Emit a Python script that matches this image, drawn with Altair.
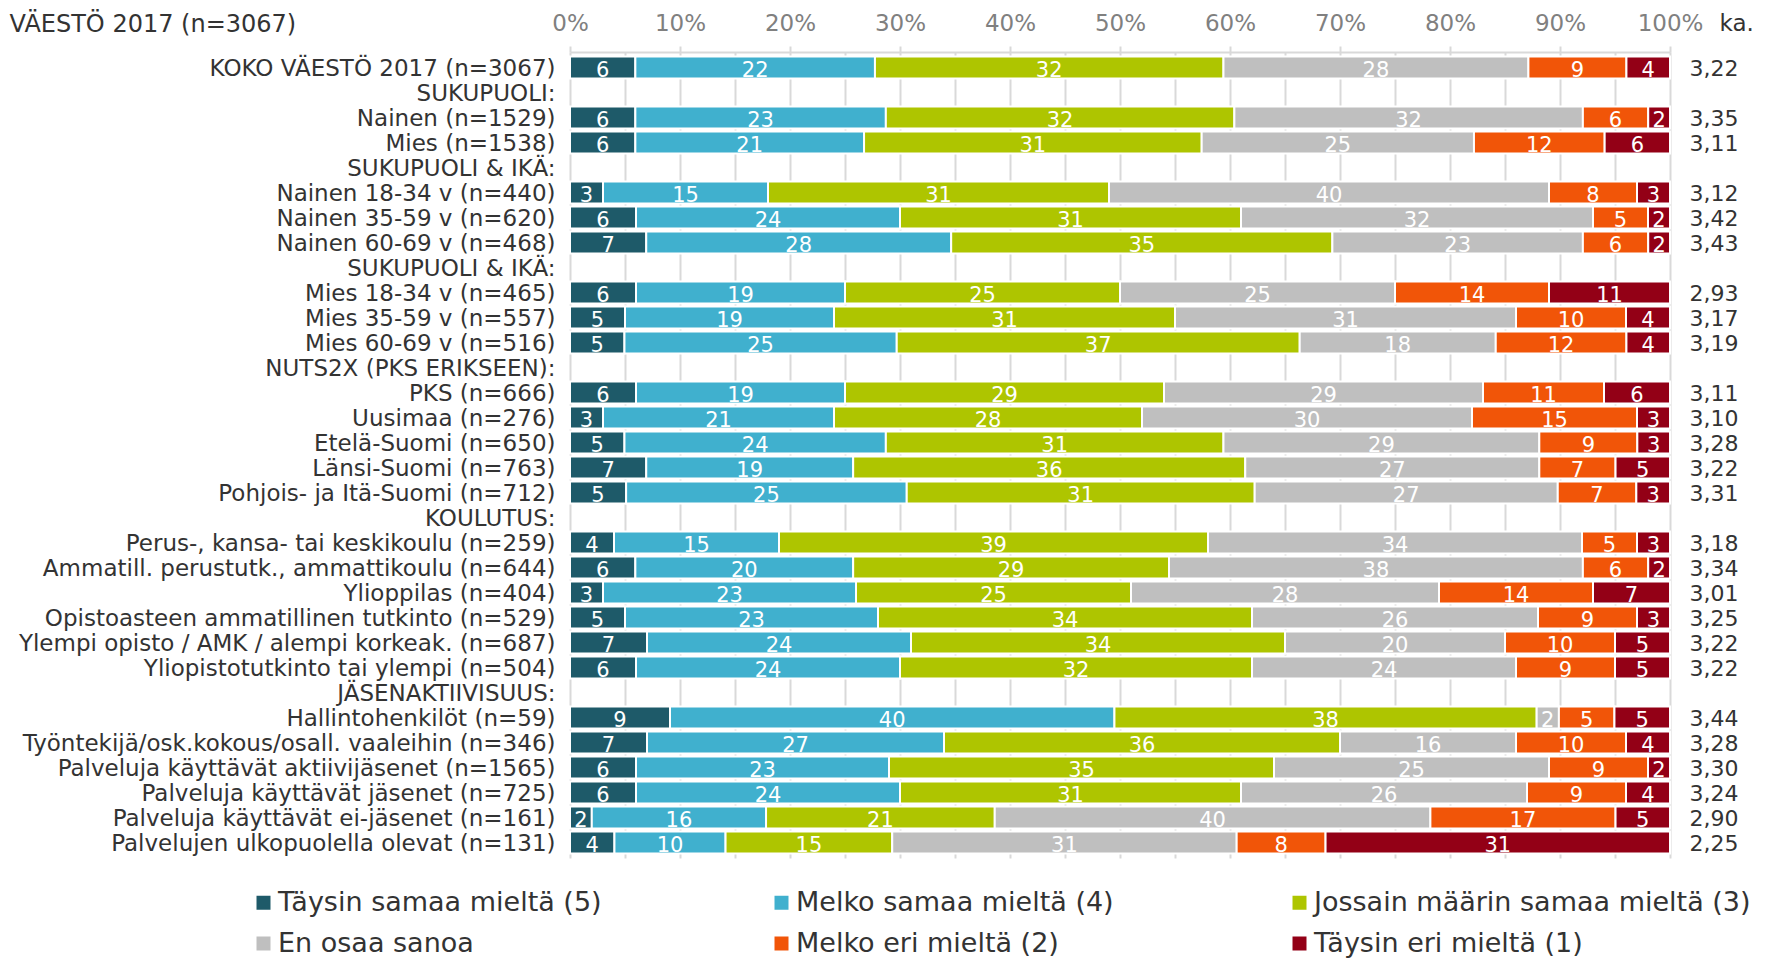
import json
import altair as alt
import pandas as pd

FONT = "DejaVu Sans"

categories = [
    "KOKO VÄESTÖ 2017 (n=3067)",
    "SUKUPUOLI:",
    "Nainen (n=1529)",
    "Mies (n=1538)",
    "SUKUPUOLI & IKÄ:",
    "Nainen 18-34 v (n=440)",
    "Nainen 35-59 v (n=620)",
    "Nainen 60-69 v (n=468)",
    "SUKUPUOLI & IKÄ:",
    "Mies 18-34 v (n=465)",
    "Mies 35-59 v (n=557)",
    "Mies 60-69 v (n=516)",
    "NUTS2X (PKS ERIKSEEN):",
    "PKS (n=666)",
    "Uusimaa (n=276)",
    "Etelä-Suomi (n=650)",
    "Länsi-Suomi (n=763)",
    "Pohjois- ja Itä-Suomi (n=712)",
    "KOULUTUS:",
    "Perus-, kansa- tai keskikoulu (n=259)",
    "Ammatill. perustutk., ammattikoulu (n=644)",
    "Ylioppilas (n=404)",
    "Opistoasteen ammatillinen tutkinto (n=529)",
    "Ylempi opisto / AMK / alempi korkeak. (n=687)",
    "Yliopistotutkinto tai ylempi (n=504)",
    "JÄSENAKTIIVISUUS:",
    "Hallintohenkilöt  (n=59)",
    "Työntekijä/osk.kokous/osall. vaaleihin (n=346)",
    "Palveluja käyttävät aktiivijäsenet (n=1565)",
    "Palveluja käyttävät jäsenet (n=725)",
    "Palveluja käyttävät ei-jäsenet (n=161)",
    "Palvelujen ulkopuolella olevat (n=131)",
]

series_names = [
    "Täysin samaa mieltä (5)",
    "Melko samaa mieltä (4)",
    "Jossain määrin samaa mieltä (3)",
    "En osaa sanoa",
    "Melko eri mieltä (2)",
    "Täysin eri mieltä (1)",
]
series_colors = ["#1e5a69", "#40b0ce", "#aec500", "#bfbfbf", "#f15508", "#930016"]

taysin_samaa = [6, None, 6, 6, None, 3, 6, 7, None, 6, 5, 5, None, 6, 3, 5, 7, 5, None, 4, 6, 3, 5, 7, 6, None, 9, 7, 6, 6, 2, 4]
melko_samaa = [22, None, 23, 21, None, 15, 24, 28, None, 19, 19, 25, None, 19, 21, 24, 19, 25, None, 15, 20, 23, 23, 24, 24, None, 40, 27, 23, 24, 16, 10]
jossain = [32, None, 32, 31, None, 31, 31, 35, None, 25, 31, 37, None, 29, 28, 31, 36, 31, None, 39, 29, 25, 34, 34, 32, None, 38, 36, 35, 31, 21, 15]
en_osaa = [28, None, 32, 25, None, 40, 32, 23, None, 25, 31, 18, None, 29, 30, 29, 27, 27, None, 34, 38, 28, 26, 20, 24, None, 2, 16, 25, 26, 40, 31]
melko_eri = [9, None, 6, 12, None, 8, 5, 6, None, 14, 10, 12, None, 11, 15, 9, 7, 7, None, 5, 6, 14, 9, 10, 9, None, 5, 10, 9, 9, 17, 8]
taysin_eri = [4, None, 2, 6, None, 3, 2, 2, None, 11, 4, 4, None, 6, 3, 3, 5, 3, None, 3, 2, 7, 3, 5, 5, None, 5, 4, 2, 4, 5, 31]

averages = ["3,22", "", "3,35", "3,11", "", "3,12", "3,42", "3,43", "", "2,93", "3,17", "3,19", "",
            "3,11", "3,10", "3,28", "3,22", "3,31", "", "3,18", "3,34", "3,01", "3,25", "3,22", "3,22", "",
            "3,44", "3,28", "3,30", "3,24", "2,90", "2,25"]

series_values = [taysin_samaa, melko_samaa, jossain, en_osaa, melko_eri, taysin_eri]

rows = []
for i in range(len(categories)):
    for k, (name, vals) in enumerate(zip(series_names, series_values)):
        v = vals[i]
        if v is None:
            continue
        rows.append({"pos": i, "category": categories[i], "series": name, "order": k, "value": v})
df = pd.DataFrame(rows)

base = (
    alt.Chart(df)
    .transform_joinaggregate(total="sum(value)", groupby=["pos"])
    .transform_calculate(share="datum.value / datum.total")
    .transform_stack(stack="share", as_=["x0", "x1"], groupby=["pos"],
                     sort=[alt.SortField("order", order="ascending")])
    .transform_calculate(mid="(datum.x0 + datum.x1) / 2")
)

xscale = alt.Scale(domain=[0, 1], nice=False, zero=True)
yscale = alt.Scale(domain=list(range(len(categories))), paddingInner=0.12, paddingOuter=0.18)

left_expr = json.dumps(categories, ensure_ascii=False) + "[datum.value]"
right_expr = json.dumps(averages, ensure_ascii=False) + "[datum.value]"

bars = base.mark_bar(stroke="white", strokeWidth=2).encode(
    x=alt.X("x0:Q", scale=xscale,
            axis=alt.Axis(orient="top", values=[i / 10 for i in range(11)], format=".0%",
                          grid=False, domainColor="#d9d9d9", domainWidth=2,
                          tickColor="#d9d9d9", tickWidth=2, tickSize=6,
                          labelColor="#808080", labelFontSize=23, labelFont=FONT,
                          labelPadding=10.5, labelFlush=False, labelOverlap=False,
                          title="VÄESTÖ 2017 (n=3067)", titleX=-561, titleY=-21,
                          titleAlign="left", titleBaseline="alphabetic", titleAngle=0,
                          titleFont=FONT, titleFontSize=24, titleFontWeight="normal",
                          titleColor="#333333")),
    x2="x1:Q",
    y=alt.Y("pos:O", scale=yscale,
            axis=alt.Axis(orient="left", labelExpr=left_expr, ticks=False, domain=False,
                          labelFontSize=23, labelFont=FONT, labelColor="#333333",
                          labelPadding=15, labelLimit=800, labelAlign="right",
                          labelOffset=1, title=None)),
    color=alt.Color("series:N",
                    scale=alt.Scale(domain=series_names, range=series_colors),
                    legend=alt.Legend(orient="none", legendX=-320, legendY=837,
                                      direction="horizontal", columns=3, gridAlign="all",
                                      columnPadding=53, rowPadding=13,
                                      symbolType="square", symbolSize=196,
                                      symbolStrokeWidth=0, labelFontSize=27,
                                      labelFont=FONT, labelColor="#333333",
                                      labelOffset=1, labelLimit=900, padding=0,
                                      title=None)),
    tooltip=["category:N", "series:N", "value:Q"],
)

labels = base.mark_text(color="white", fontSize=21, font=FONT, baseline="middle", dy=3).encode(
    x=alt.X("mid:Q", scale=xscale,
            axis=alt.Axis(orient="bottom", values=[i / 20 for i in range(21)], grid=True,
                          gridColor="#d9d9d9", gridWidth=2, labels=False, ticks=False,
                          domain=False, title=None)),
    y=alt.Y("pos:O", scale=yscale,
            axis=alt.Axis(orient="right", labelExpr=right_expr, ticks=False, domain=False,
                          labelFontSize=22, labelFont=FONT, labelColor="#333333",
                          labelPadding=19, labelAlign="left", labelOffset=1,
                          title="ka.", titleX=49, titleY=-21.5, titleAngle=0,
                          titleAlign="left", titleBaseline="alphabetic",
                          titleFont=FONT, titleFontSize=23, titleFontWeight="normal",
                          titleColor="#333333")),
    text="value:Q",
)

chart = (
    alt.layer(bars, labels)
    .resolve_axis(x="independent", y="independent")
    .properties(width=1100, height=806,
                autosize=alt.AutoSizeParams(type="none"),
                padding={"left": 562, "top": 44, "right": 87, "bottom": 100})
    .configure_view(stroke="transparent")
)

chart.save("out.html", embed_options={"renderer": "svg", "actions": False})
